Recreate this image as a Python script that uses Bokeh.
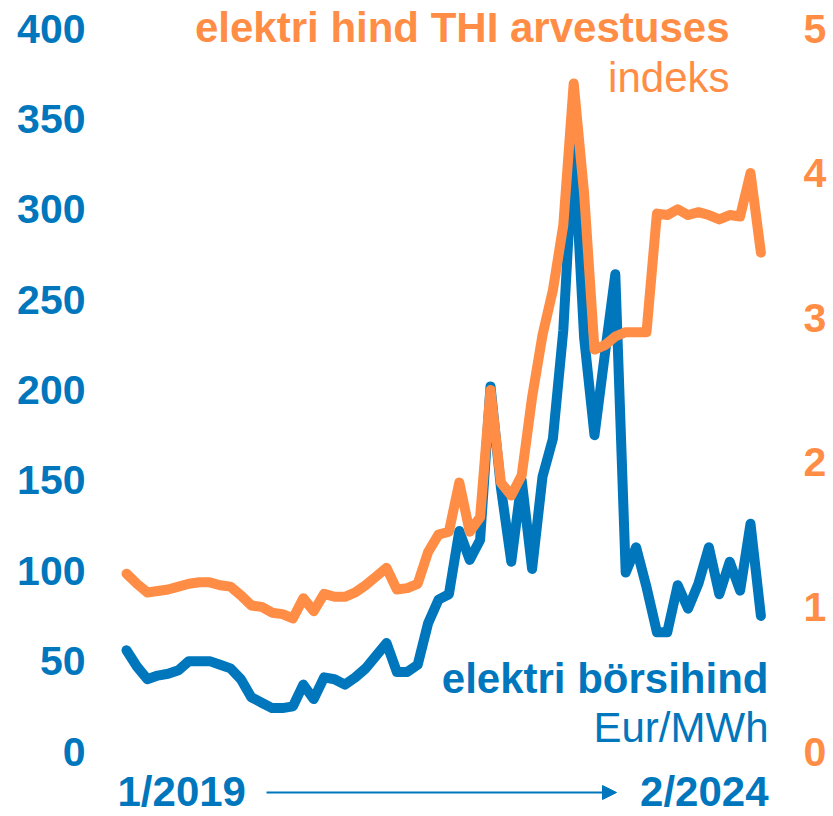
from bokeh.plotting import figure
from bokeh.models import Range1d, LinearAxis, FixedTicker, Label, Arrow, NormalHead
from bokeh.embed import file_html
from bokeh.resources import INLINE

# ---- data (monthly, 1/2019 .. 2/2024) ----
months = list(range(62))
spot_price = [56, 47, 40, 42, 43, 45, 50, 50, 50, 48,
              46, 40, 30, 27, 24, 24, 25, 37, 29, 41,
              40, 37, 41, 46, 53, 60, 44, 44, 48, 71,
              84, 87, 122, 106, 117, 202, 146, 105, 150, 101,
              152, 173, 233, 338, 229, 175, 220, 264, 99, 113,
              91, 66, 66, 92, 79, 93, 113, 87, 105, 89,
              126, 75]
cpi_index = [1.23, 1.16, 1.10, 1.11, 1.12, 1.14, 1.16, 1.17, 1.17, 1.15,
             1.14, 1.08, 1.01, 1.00, 0.96, 0.95, 0.92, 1.06, 0.97, 1.09,
             1.07, 1.07, 1.10, 1.15, 1.21, 1.27, 1.12, 1.13, 1.16, 1.38,
             1.50, 1.52, 1.86, 1.52, 1.62, 2.50, 1.86, 1.77, 1.91, 2.45,
             2.88, 3.19, 3.64, 4.62, 3.86, 2.78, 2.81, 2.87, 2.90, 2.90,
             2.90, 3.72, 3.71, 3.75, 3.71, 3.73, 3.71, 3.68, 3.71, 3.70,
             4.00, 3.45]
left_ticks = [0, 50, 100, 150, 200, 250, 300, 350, 400]
right_ticks = [0, 1, 2, 3, 4, 5]
title_main = "elektri hind THI arvestuses"
title_sub = "indeks"
series_main = "elektri börsihind"
series_unit = "Eur/MWh"
start_label = "1/2019"
end_label = "2/2024"

BLUE = "#0077BD"
ORANGE = "#FF8D45"
FONT = "Liberation Sans"

# page-pixel helpers (figure sits at page origin)
def px2x(px):
    return (px - 126) / 10.4

def py2y(py):
    return (751 - py) / 1.8075

W, H = 830, 816
ML, MR = 95, 33
frame_left = ML
frame_right = W - MR

p = figure(width=W, height=H, output_backend="svg", toolbar_location=None,
           title=None,
           x_range=Range1d(px2x(frame_left), px2x(frame_right)),
           y_range=Range1d(py2y(H), py2y(0)),
           min_border_left=ML, min_border_right=MR,
           min_border_top=0, min_border_bottom=0,
           x_axis_location=None, y_axis_location="left")
p.outline_line_color = None
p.xgrid.visible = False
p.ygrid.visible = False
p.background_fill_color = "white"
p.border_fill_color = "white"

p.extra_y_ranges = {"r": Range1d(p.y_range.start / 80, p.y_range.end / 80)}

def style_axis(ax, color, standoff):
    ax.axis_line_color = None
    ax.major_tick_line_color = None
    ax.minor_tick_line_color = None
    ax.major_tick_in = 0
    ax.major_tick_out = 0
    ax.minor_tick_in = 0
    ax.minor_tick_out = 0
    ax.major_label_text_font = FONT
    ax.major_label_text_font_size = "41px"
    ax.major_label_text_font_style = "bold"
    ax.major_label_text_color = color
    ax.major_label_standoff = standoff

ly = p.yaxis[0]
ly.ticker = FixedTicker(ticks=left_ticks)
style_axis(ly, BLUE, 10)

ry = LinearAxis(y_range_name="r", ticker=FixedTicker(ticks=right_ticks))
style_axis(ry, ORANGE, 6)
p.add_layout(ry, "right")

p.line(months, spot_price, line_width=10, line_color=BLUE,
       line_join="round", line_cap="round")
p.line(months, cpi_index, y_range_name="r", line_width=10, line_color=ORANGE,
       line_join="round", line_cap="round")

BASE_SHIFT = 15

def add_label(txt, px, py, color, bold, align):
    p.add_layout(Label(x=px2x(px), y=py2y(py - BASE_SHIFT), text=txt, text_font=FONT,
                       text_font_size="42px",
                       text_font_style="bold" if bold else "normal",
                       text_color=color, text_align=align,
                       text_baseline="alphabetic"))

add_label(title_main, 729, 42, ORANGE, True, "right")
add_label(title_sub, 729, 92, ORANGE, False, "right")
add_label(series_main, 768, 693, BLUE, True, "right")
add_label(series_unit, 768, 742, BLUE, False, "right")
add_label(start_label, 117, 806, BLUE, True, "left")
add_label(end_label, 768, 806, BLUE, True, "right")

p.add_layout(Arrow(x_start=px2x(266), y_start=py2y(792),
                   x_end=px2x(616), y_end=py2y(792),
                   line_color=BLUE, line_width=2,
                   end=NormalHead(size=14, fill_color=BLUE, line_color=BLUE)))

open("out.html", "w").write(file_html(p, INLINE))
